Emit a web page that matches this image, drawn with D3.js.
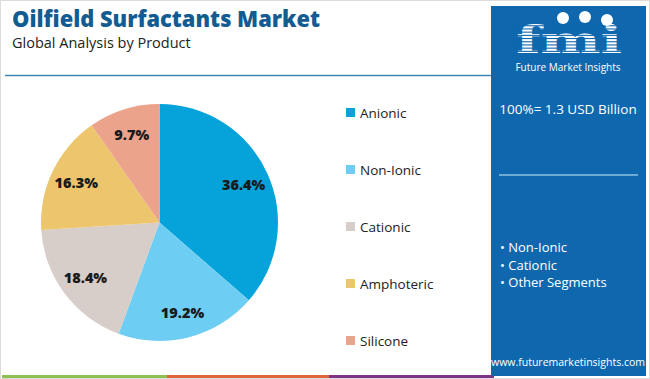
<!DOCTYPE html>
<html><head><meta charset="utf-8">
<script src="https://cdn.jsdelivr.net/npm/d3@7"></script>
<style>html,body{margin:0;padding:0;background:#fff;}svg{display:block;font-family:"Open Sans",sans-serif;}</style>
</head><body>
<script>
const categories = ["Anionic","Non-Ionic","Cationic","Amphoteric","Silicone"];
const values = [36.4,19.2,18.4,16.3,9.7];
const colors = ["#05a3da","#6ecdf2","#d7cdc9","#ecc56c","#eba38c"];
const panelBullets = ["Non-Ionic","Cationic","Other Segments"];
const totalLabel = "100%= 1.3 USD Billion";

const W=650,H=379;
const svg=d3.select("body").append("svg").attr("width",W).attr("height",H);

// outer border
svg.append("rect").attr("x",0.5).attr("y",0.5).attr("width",W-1).attr("height",H-1).attr("fill","#fff").attr("stroke","#dcdcdc");

// title
svg.append("text").attr("x",12).attr("y",27).attr("fill","#125c93").attr("font-size",22.5).attr("font-weight",800)
  .attr("textLength",308).attr("lengthAdjust","spacingAndGlyphs").text("Oilfield Surfactants Market");
svg.append("text").attr("x",12).attr("y",48).attr("fill","#222").attr("font-size",14.5).text("Global Analysis by Product");

// separator line
svg.append("line").attr("x1",5).attr("x2",492).attr("y1",75.5).attr("y2",75.5).attr("stroke","#3f87b6").attr("stroke-width",1.5);

// bottom color bar
const barSegs=[["#8dc153",2,167],["#e0653a",167,329],["#7f3388",329,494]];
barSegs.forEach(s=>svg.append("rect").attr("x",s[1]).attr("y",375).attr("width",s[2]-s[1]).attr("height",3).attr("fill",s[0]));

// pie
const cx=159.5, cy=222.5, R=118.5;
const pie=d3.pie().sort(null).value(d=>d)(values);
const arc=d3.arc().innerRadius(0).outerRadius(R);
const labelArc=d3.arc().innerRadius(R*0.78).outerRadius(R*0.78);
const g=svg.append("g").attr("transform",`translate(${cx},${cy})`);
g.selectAll("path").data(pie).join("path").attr("d",arc).attr("fill",(d,i)=>colors[i]);
g.selectAll("text").data(pie).join("text")
  .attr("transform",d=>`translate(${labelArc.centroid(d)})`)
  .attr("text-anchor","middle").attr("dominant-baseline","central")
  .attr("font-size",14.5).attr("font-weight",800).attr("fill","#1a1a1a")
  .text(d=>d.data.toFixed(1)+"%");

// legend
const ly=d3.scaleLinear().domain([0,categories.length-1]).range([112.5,340.5]);
const lg=svg.append("g");
categories.forEach((c,i)=>{
  lg.append("rect").attr("x",346).attr("y",ly(i)-4.5).attr("width",9).attr("height",9).attr("fill",colors[i]);
  lg.append("text").attr("x",360).attr("y",ly(i)).attr("dominant-baseline","central").attr("font-size",13.5).attr("fill","#222").text(c);
});

// right panel
svg.append("rect").attr("x",491).attr("y",6).attr("width",155).attr("height",370).attr("fill","#0f68ad");
// logo
const logo=svg.append("g");
logo.append("text").attr("x",569).attr("y",53).attr("text-anchor","middle").attr("fill","#fff")
  .attr("font-family","'DejaVu Serif', serif").attr("font-weight",700).attr("font-size",38)
  .attr("textLength",106).attr("lengthAdjust","spacingAndGlyphs").text("fmi");
for(let y=22;y<56;y+=3.2){
  logo.append("rect").attr("x",512).attr("y",y).attr("width",115).attr("height",1.1).attr("fill","#0f68ad");
}
// small icons above letters
[[563,18],[585,17],[607,20]].forEach(p=>logo.append("circle").attr("cx",p[0]).attr("cy",p[1]).attr("r",6).attr("fill","#fff"));
svg.append("text").attr("x",568).attr("y",71).attr("text-anchor","middle").attr("fill","#fff").attr("font-size",10).text("Future Market Insights");

svg.append("text").attr("x",568).attr("y",114).attr("text-anchor","middle").attr("fill","#fff").attr("font-size",13.5).text(totalLabel);
svg.append("line").attr("x1",499).attr("x2",638).attr("y1",175).attr("y2",175).attr("stroke","#8ec0e3").attr("stroke-width",1.5);
const by=d3.scaleLinear().domain([0,panelBullets.length-1]).range([247,282]);
panelBullets.forEach((b,i)=>svg.append("text").attr("x",500).attr("y",by(i)).attr("dominant-baseline","central")
  .attr("fill","#fff").attr("font-size",13).text("\u2022 "+b));
svg.append("text").attr("x",568).attr("y",366).attr("text-anchor","middle").attr("fill","#fff").attr("font-size",10.5).text("www.futuremarketinsights.com");
</script>
</body></html>
